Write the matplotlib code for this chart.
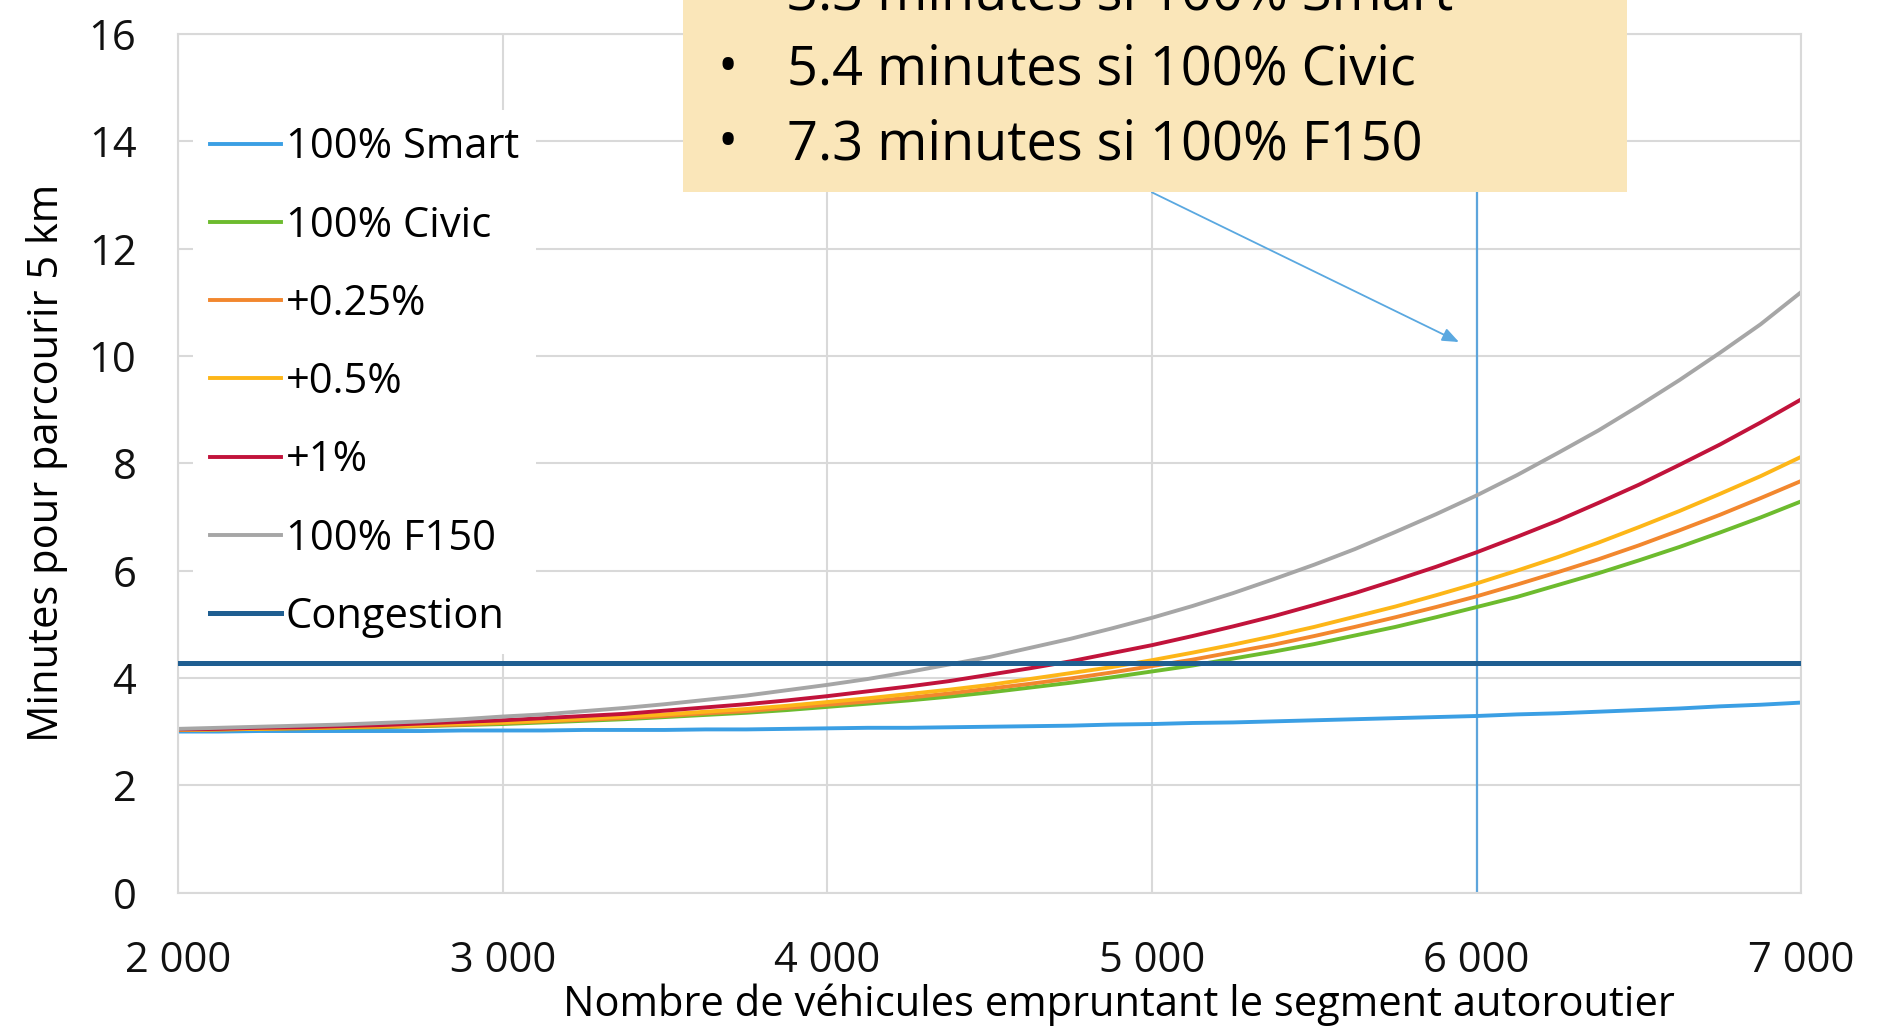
import matplotlib.pyplot as plt
from matplotlib.patches import Rectangle
from matplotlib.ticker import FuncFormatter

plt.rcParams['font.family'] = ['Open Sans', 'DejaVu Sans']

# nombre de vehicules (axe x)
vehicules = [2000, 2125, 2250, 2375, 2500, 2625, 2750, 2875, 3000, 3125, 3250,
             3375, 3500, 3625, 3750, 3875, 4000, 4125, 4250, 4375, 4500,
             4625, 4750, 4875, 5000, 5125, 5250, 5375, 5500, 5625, 5750,
             5875, 6000, 6125, 6250, 6375, 6500, 6625, 6750, 6875, 7000]

# minutes pour parcourir 5 km
smart = [3.00, 3.00, 3.01, 3.01, 3.01, 3.01, 3.01, 3.02, 3.02, 3.02, 3.03,
         3.03, 3.03, 3.04, 3.04, 3.05, 3.06, 3.07, 3.07, 3.08, 3.09,
         3.10, 3.11, 3.13, 3.14, 3.16, 3.17, 3.19, 3.21, 3.23, 3.25,
         3.27, 3.29, 3.32, 3.34, 3.37, 3.40, 3.43, 3.47, 3.50, 3.54]
civic = [3.03, 3.04, 3.05, 3.06, 3.07, 3.08, 3.10, 3.12, 3.14, 3.17, 3.20,
         3.23, 3.27, 3.31, 3.35, 3.40, 3.46, 3.52, 3.58, 3.65, 3.73,
         3.82, 3.91, 4.01, 4.12, 4.23, 4.36, 4.49, 4.63, 4.79, 4.95,
         5.13, 5.32, 5.51, 5.73, 5.95, 6.19, 6.44, 6.71, 6.99, 7.29]
plus_025 = [3.03, 3.04, 3.05, 3.06, 3.08, 3.09, 3.11, 3.13, 3.16, 3.19, 3.22,
            3.25, 3.29, 3.34, 3.38, 3.44, 3.50, 3.56, 3.63, 3.71, 3.80,
            3.89, 3.99, 4.10, 4.22, 4.34, 4.48, 4.62, 4.78, 4.95, 5.13,
            5.32, 5.52, 5.74, 5.97, 6.21, 6.47, 6.75, 7.04, 7.35, 7.67]
plus_05 = [3.03, 3.04, 3.05, 3.07, 3.08, 3.10, 3.12, 3.15, 3.17, 3.20, 3.24,
           3.28, 3.32, 3.37, 3.42, 3.48, 3.55, 3.62, 3.70, 3.78, 3.87,
           3.98, 4.09, 4.20, 4.33, 4.47, 4.62, 4.78, 4.95, 5.14, 5.33,
           5.54, 5.76, 6.00, 6.25, 6.52, 6.81, 7.11, 7.43, 7.76, 8.12]
plus_1 = [3.04, 3.05, 3.07, 3.08, 3.10, 3.12, 3.15, 3.18, 3.21, 3.25, 3.29,
          3.33, 3.39, 3.45, 3.51, 3.58, 3.66, 3.75, 3.84, 3.94, 4.06,
          4.18, 4.31, 4.46, 4.61, 4.78, 4.96, 5.15, 5.36, 5.58, 5.82,
          6.07, 6.34, 6.63, 6.93, 7.26, 7.60, 7.97, 8.35, 8.76, 9.19]
f150 = [3.05, 3.07, 3.09, 3.11, 3.13, 3.16, 3.19, 3.23, 3.28, 3.32, 3.38,
        3.44, 3.51, 3.59, 3.67, 3.77, 3.87, 3.98, 4.11, 4.25, 4.39,
        4.56, 4.73, 4.92, 5.12, 5.34, 5.58, 5.84, 6.11, 6.40, 6.72,
        7.05, 7.40, 7.78, 8.19, 8.61, 9.07, 9.55, 10.06, 10.59, 11.19]
congestion = 4.28
repere_x = 6000

series = [
    ('100% Smart', smart, '#3B9FE4'),
    ('100% Civic', civic, '#6DBB2E'),
    ('+0.25%', plus_025, '#F2872E'),
    ('+0.5%', plus_05, '#FDB618'),
    ('+1%', plus_1, '#C1133B'),
    ('100% F150', f150, '#A6A6A6'),
]

notes = ['3.3 minutes si 100% Smart',
         '5.4 minutes si 100% Civic',
         '7.3 minutes si 100% F150']

fig = plt.figure(figsize=(18.86, 10.26), dpi=100)
ax = fig.add_axes([0.0944, 0.1301, 0.8606, 0.8367])

ax.axvline(repere_x, color='#5DA5DC', lw=1.6, zorder=1.5)
for nom, valeurs, couleur in series:
    ax.plot(vehicules, valeurs, color=couleur, lw=2.8, label=nom, zorder=2)
ax.plot([vehicules[0], vehicules[-1]], [congestion, congestion],
        color='#1F5E91', lw=3.6, label='Congestion', zorder=3)

ax.set_xlim(2000, 7000)
ax.set_ylim(0, 16)
ax.set_xticks([2000, 3000, 4000, 5000, 6000, 7000])
ax.set_yticks(range(0, 17, 2))
ax.xaxis.set_major_formatter(FuncFormatter(lambda x, pos: '{:,}'.format(int(x)).replace(',', ' ')))
ax.grid(color='#D9D9D9', lw=1.5, zorder=0)
ax.set_axisbelow(True)
for s in ax.spines.values():
    s.set_color('#D9D9D9')
    s.set_linewidth(1.5)
ax.tick_params(length=0, labelsize=30, colors='#111111')
ax.tick_params(axis='x', pad=34)
ax.tick_params(axis='y', pad=30)

ax.set_xlabel('Nombre de véhicules empruntant le segment autoroutier', fontsize=30)
ax.xaxis.set_label_coords(0.5795, -0.106)
ax.set_ylabel('Minutes pour parcourir 5 km', fontsize=30)
ax.yaxis.set_label_coords(-0.081, 0.5)
ax.yaxis.label.set_verticalalignment('center')

leg = ax.legend(loc='upper left', bbox_to_anchor=(0.0093, 0.912), fontsize=30,
                frameon=True, facecolor='white', edgecolor='none', framealpha=1,
                borderaxespad=0, borderpad=0.4, handlelength=1.7,
                handletextpad=0.12, labelspacing=0.87)
leg.set_zorder(4)

# encadre d'annotation
fig.add_artist(Rectangle((0.3621, 0.8124), 0.5006, 0.25, transform=fig.transFigure,
                         facecolor='#FAE6B9', edgecolor='none', zorder=5))
for i, t in enumerate(notes):
    y = 0.991 - i * 0.0731
    fig.text(0.3802, y, '•', fontsize=39, va='baseline', ha='left', zorder=6)
    fig.text(0.4173, y, t, fontsize=39, va='baseline', ha='left', zorder=6)

ax.annotate('', xy=(5946, 10.26), xytext=(5000, 13.05),
            arrowprops=dict(arrowstyle='-|>,head_length=1.0,head_width=0.4',
                            color='#5AA8E0', lw=1.3, shrinkA=0, shrinkB=0))

fig.savefig('out.png', dpi=100)
